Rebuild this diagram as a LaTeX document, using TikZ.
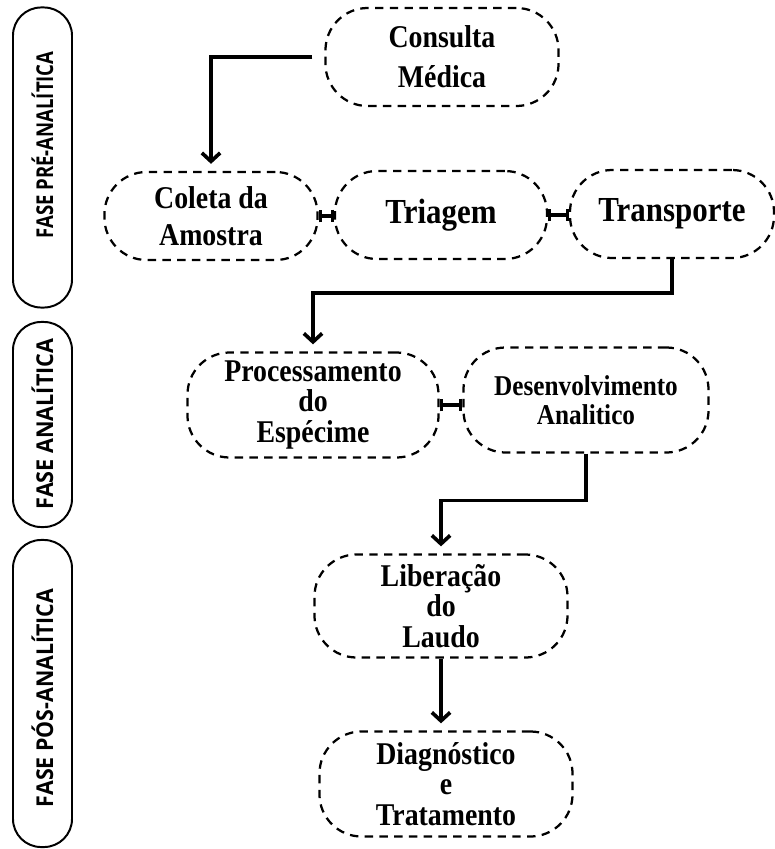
\documentclass[tikz,border=0pt]{standalone}
\usepackage{fontspec}
\setmainfont{Liberation Serif}[FakeStretch=0.88]
\newfontfamily\fasefont{Open Sans}
\usetikzlibrary{arrows.meta}
\usetikzlibrary{calc}

\begin{document}
\begin{tikzpicture}[x=0.025cm, y=-0.025cm,
	etapa/.style={draw, black, line width=1.6pt, dash pattern=on 6pt off 4.5pt, rounded corners=30pt, align=center, inner sep=0pt, font=\fontsize{22.5}{21.5}\selectfont\bfseries},
	fase/.style={draw, black, line width=1.4pt, rounded corners=20pt, minimum width=59*\px},
	fasetexto/.style={rotate=90, inner sep=0pt, font=\fasefont\fontsize{16.5}{18}\selectfont\bfseries},
	seta/.style={line width=2.6pt, -{Straight Barb[length=6pt,width=13pt]}, shorten >=5pt},
	barra/.style={line width=2.2pt, {Bar[width=9pt]}-{Bar[width=9pt]}}
]

	\def\px{0.7113pt} %one pixel of the reference
	\useasboundingbox (0,0) rectangle (775,849);

	%phase boxes on the left
	\node[fase, minimum height=300*\px] (faseA) at (42.5,157.5) {};
	\node[fasetexto, xscale=0.8] (textoA) at (42.5,145) {FASE PRÉ-ANALÍTICA};
	\node[fase, minimum height=205*\px] (faseB) at (42.5,424.5) {};
	\node[fasetexto, xscale=0.93] (textoB) at (42.5,424) {FASE ANALÍTICA};
	\node[fase, minimum height=307*\px] (faseC) at (42.5,693.5) {};
	\node[fasetexto, xscale=0.92] (textoC) at (42.5,698) {FASE PÓS-ANALÍTICA};

	%steps
	\node[etapa, minimum width=233*\px, minimum height=98*\px, font=\fontsize{22.5}{28.5}\selectfont\bfseries] (consulta) at (442,57) {Consulta\\Médica};
	\node[etapa, minimum width=213*\px, minimum height=88*\px, font=\fontsize{22.5}{26.3}\selectfont\bfseries] (coleta) at (211,216) {Coleta da\\Amostra};
	\node[etapa, minimum width=212*\px, minimum height=88*\px, font=\fontsize{25}{25}\selectfont\bfseries] (triagem) at (441,215) {Triagem};
	\node[etapa, minimum width=204*\px, minimum height=88*\px, font=\fontsize{25}{25}\selectfont\bfseries] (transporte) at (672,214) {Transporte};
	\node[etapa, minimum width=251*\px, minimum height=105*\px] (processamento) at (313,405) {Processamento\\do\\Espécime};
	\node[etapa, minimum width=245*\px, minimum height=105*\px, font=\fontsize{20.4}{20.5}\selectfont\bfseries] (desenvolvimento) at (586,400) {Desenvolvimento\\Analitico};
	\node[etapa, minimum width=253*\px, minimum height=103*\px] (liberacao) at (441,606) {Liberação\\do\\Laudo};
	\node[etapa, minimum width=253*\px, minimum height=105*\px] (diagnostico) at (446,784) {Diagnóstico\\e\\Tratamento};

	%connectors
	\draw[seta, shorten <=8.5pt] (consulta.west) -| (coleta.north);
	\draw[barra] (coleta.east) -- (coleta.east -| triagem.west);
	\draw[barra] (triagem.east) -- (triagem.east -| transporte.west);
	\draw[seta] (transporte.south) -- ++(0,34) -| (processamento.north);
	\draw[barra] (processamento.east) -- (processamento.east -| desenvolvimento.west);
	\draw[seta] (desenvolvimento.south) -- ++(0,47) -| (liberacao.north);
	\draw[seta] (liberacao.south) -- (liberacao.south |- diagnostico.north);

\end{tikzpicture}
\end{document}
